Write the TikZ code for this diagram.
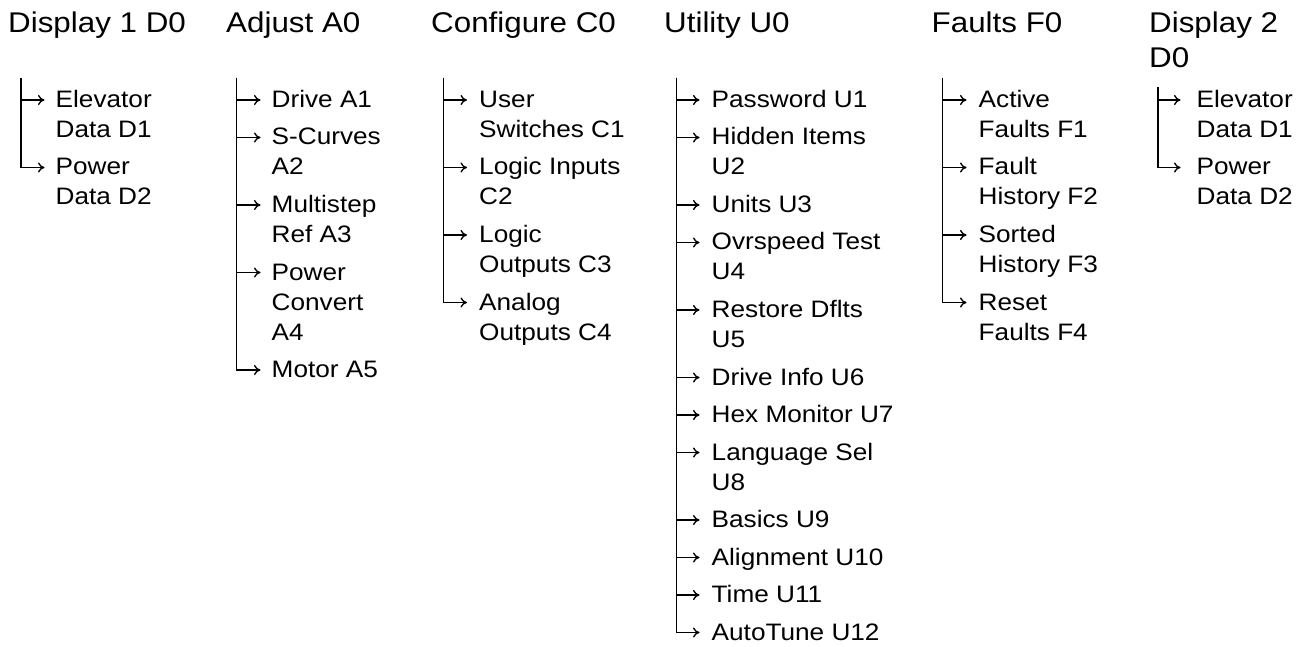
\documentclass[tikz,border=0pt]{standalone}
\usepackage{fontspec}
\setmainfont{Liberation Sans}[FakeStretch=1.1]
\usetikzlibrary{arrows.meta}
% stacked lines whose baseline is that of the first line
\newcommand\stackedlines[1]{\begin{tabular}[t]{@{}l@{}}#1\end{tabular}}

\begin{document}
\begin{tikzpicture}[x=1pt,y=-1pt,
  head/.style={anchor=base west, inner sep=0pt,
               font=\fontsize{28.5}{35}\selectfont},
  item/.style={anchor=base west, inner sep=0pt,
               font=\fontsize{23.8}{30}\selectfont},
  link/.style={line width=1.35pt, -{To[length=6.5pt,width=10pt]}}]
\useasboundingbox (0,0) rectangle (1307,647);

% Display 1
\node[head] (h1) at (8,33) {Display 1 D0};
\coordinate (t1) at (21,78);
\foreach \nm/\bl/\txt in {d1a/107.5/{Elevator\\Data D1}, d1b/175/{Power\\Data D2}} {
  \node[item] (\nm) at (55.5,\bl) {\stackedlines{\txt}};
  \draw[link] (t1) |- ([xshift=-11pt,yshift=7.5pt]\nm.base west);
}

% Adjust
\node[head] (h2) at (226,33) {Adjust A0};
\coordinate (t2) at (236.7,78);
\foreach \nm/\bl/\txt in {a1/107.5/{Drive A1}, a2/145/{S-Curves\\A2},
    a3/212.5/{Multistep\\Ref A3}, a4/280/{Power\\Convert\\A4}, a5/377.5/{Motor A5}} {
  \node[item] (\nm) at (271.5,\bl) {\stackedlines{\txt}};
  \draw[link] (t2) |- ([xshift=-11pt,yshift=7.5pt]\nm.base west);
}

% Configure
\node[head] (h3) at (431,33) {Configure C0};
\coordinate (t3) at (443.3,78);
\foreach \nm/\bl/\txt in {c1/107.5/{User\\Switches C1}, c2/175/{Logic Inputs\\C2},
    c3/242.5/{Logic\\Outputs C3}, c4/310/{Analog\\Outputs C4}} {
  \node[item] (\nm) at (479,\bl) {\stackedlines{\txt}};
  \draw[link] (t3) |- ([xshift=-12pt,yshift=7.5pt]\nm.base west);
}

% Utility
\node[head] (h4) at (664,33) {Utility U0};
\coordinate (t4) at (676.7,78);
\foreach \nm/\bl/\txt in {u1/107.5/{Password U1}, u2/145/{Hidden Items\\U2},
    u3/212.5/{Units U3}, u4/250/{Ovrspeed Test\\U4}, u5/317.5/{Restore Dflts\\U5},
    u6/385/{Drive Info U6}, u7/422.5/{Hex Monitor U7}, u8/460/{Language Sel\\U8},
    u9/527.5/{Basics U9}, u10/565/{Alignment U10}, u11/602.5/{Time U11},
    u12/640/{AutoTune U12}} {
  \node[item] (\nm) at (711.5,\bl) {\stackedlines{\txt}};
  \draw[link] (t4) |- ([xshift=-12pt,yshift=7.5pt]\nm.base west);
}

% Faults
\node[head] (h5) at (931.5,33) {Faults F0};
\coordinate (t5) at (942.7,78);
\foreach \nm/\bl/\txt in {f1/107.5/{Active\\Faults F1}, f2/175/{Fault\\History F2},
    f3/242.5/{Sorted\\History F3}, f4/310/{Reset\\Faults F4}} {
  \node[item] (\nm) at (978.5,\bl) {\stackedlines{\txt}};
  \draw[link] (t5) |- ([xshift=-12pt,yshift=7.5pt]\nm.base west);
}

% Display 2
\node[head] (h6) at (1149,33) {\stackedlines{Display 2\\D0}};
\coordinate (t6) at (1158,87);
\foreach \nm/\bl/\txt in {e1/107.5/{Elevator\\Data D1}, e2/175/{Power\\Data D2}} {
  \node[item] (\nm) at (1196.5,\bl) {\stackedlines{\txt}};
  \draw[link] (t6) |- ([xshift=-16pt,yshift=7.5pt]\nm.base west);
}
\end{tikzpicture}
\end{document}
